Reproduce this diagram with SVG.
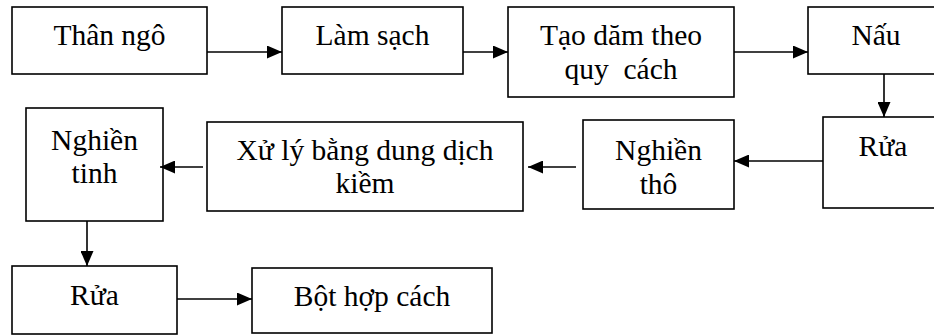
<svg xmlns="http://www.w3.org/2000/svg" width="934" height="336" viewBox="0 0 934 336">
<style>
.box{fill:#fff;stroke:#000;stroke-width:1.6}
.t{font-family:'Liberation Serif',Tinos,'DejaVu Serif',serif;font-size:29.5px;fill:#000;text-anchor:middle;white-space:pre}
.c{stroke:#000;stroke-width:1.6;fill:none;marker-end:url(#ah)}
</style>
<defs>
<marker id="ah" markerUnits="userSpaceOnUse" markerWidth="15" markerHeight="13" refX="15" refY="6.5" orient="auto">
<path d="M0,0 L15,6.5 L0,13 Z" fill="#000"/>
</marker>
</defs>
<rect width="934" height="336" fill="#fff"/>
<g id="n1"><rect class="box" x="12" y="7" width="195" height="67"/><text class="t" x="109.5" y="45" font-family="Liberation Serif, serif">Thân ngô</text></g>
<g id="n2"><rect class="box" x="282" y="7" width="181" height="67"/><text class="t" x="372.5" y="45">Làm sạch</text></g>
<g id="n3"><rect class="box" x="508" y="7" width="226" height="90"/><text class="t" x="621" y="45">Tạo dăm theo</text><text class="t" x="621" y="79" xml:space="preserve">quy  cách</text></g>
<g id="n4"><rect class="box" x="808" y="7" width="136" height="67"/><text class="t" x="876" y="45">Nấu</text></g>
<g id="n5"><rect class="box" x="823" y="117" width="120" height="91"/><text class="t" x="883" y="156">Rửa</text></g>
<g id="n6"><rect class="box" x="583" y="120" width="151" height="89"/><text class="t" x="658.5" y="160">Nghiền</text><text class="t" x="658.5" y="194">thô</text></g>
<g id="n7"><rect class="box" x="207" y="122" width="316" height="89"/><text class="t" x="365" y="160">Xử lý bằng dung dịch</text><text class="t" x="365" y="193">kiềm</text></g>
<g id="n8"><rect class="box" x="26" y="108" width="137" height="113"/><text class="t" x="94.5" y="150">Nghiền</text><text class="t" x="94.5" y="183">tinh</text></g>
<g id="n9"><rect class="box" x="12" y="266" width="165" height="68"/><text class="t" x="94.5" y="305">Rửa</text></g>
<g id="n10"><rect class="box" x="252" y="268" width="240" height="65"/><text class="t" x="372" y="306">Bột hợp cách</text></g>
<g id="connectors">
<path class="c" d="M207,52 H282"/>
<path class="c" d="M463,52 H508"/>
<path class="c" d="M734,52 H808"/>
<path class="c" d="M884,74 V117"/>
<path class="c" d="M823,161 H734"/>
<path class="c" d="M576,167 H528"/>
<path class="c" d="M203,167 H160"/>
<path class="c" d="M87,221 V266"/>
<path class="c" d="M177,299 H252"/>
</g>
</svg>
